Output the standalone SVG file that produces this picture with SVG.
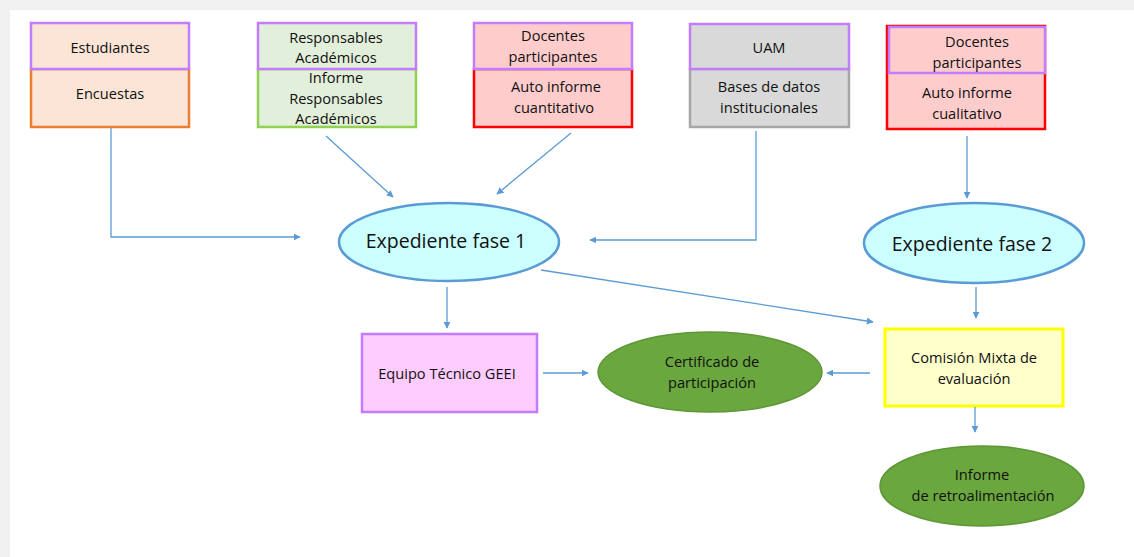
<svg xmlns="http://www.w3.org/2000/svg" width="1134" height="557" viewBox="0 0 1134 557">
<defs>
<style>
text{font-family:"Open Sans","Liberation Sans",sans-serif;fill:#111111;text-anchor:middle;dominant-baseline:central}
.s{font-size:14.6px}
.b{font-size:19.5px}
.c{stroke:#5b9bd5;stroke-width:1.3;fill:none;marker-end:url(#a)}
.pur{stroke:#c27cff;stroke-width:2.5}
</style>
<marker id="a" viewBox="0 0 10 10" refX="9" refY="5" markerWidth="7" markerHeight="7" orient="auto" markerUnits="userSpaceOnUse">
<path d="M0,0 L10,5 L0,10 z" fill="#5b9bd5"/>
</marker>
</defs>
<rect x="0" y="0" width="1134" height="557" fill="#f0f0f0"/>
<rect x="10" y="10" width="1124" height="547" fill="#ffffff"/>

<g id="n-estudiantes">
<rect x="31" y="69" width="158" height="58" fill="#fbe5d6" stroke="#ed7d31" stroke-width="2.5"/>
<rect x="31" y="23" width="158" height="46" fill="#fbe5d6" class="pur"/>
<text class="s" x="110" y="47">Estudiantes</text>
<text class="s" x="110" y="93">Encuestas</text>
</g>

<g id="n-responsables">
<rect x="258" y="69" width="158" height="58" fill="#e2efda" stroke="#92d050" stroke-width="2.5"/>
<rect x="258" y="23" width="158" height="46" fill="#e2efda" class="pur"/>
<text class="s" x="336" y="37">Responsables</text>
<text class="s" x="336" y="57">Académicos</text>
<text class="s" x="336" y="77">Informe</text>
<text class="s" x="336" y="98">Responsables</text>
<text class="s" x="336" y="118">Académicos</text>
</g>

<g id="n-docentes1">
<rect x="474" y="69" width="158" height="58" fill="#ffcccc" stroke="#ff0000" stroke-width="2.5"/>
<rect x="474" y="23" width="158" height="46" fill="#ffcccc" class="pur"/>
<text class="s" x="553" y="35">Docentes</text>
<text class="s" x="553" y="56">participantes</text>
<text class="s" x="556" y="86">Auto informe</text>
<text class="s" x="554" y="107">cuantitativo</text>
</g>

<g id="n-uam">
<rect x="690" y="69" width="159" height="58" fill="#d9d9d9" stroke="#a6a6a6" stroke-width="2.5"/>
<rect x="690" y="24" width="159" height="45" fill="#d9d9d9" class="pur"/>
<text class="s" x="769" y="47">UAM</text>
<text class="s" x="769" y="86">Bases de datos</text>
<text class="s" x="769" y="107">institucionales</text>
</g>

<g id="n-docentes2">
<rect x="887" y="26" width="158" height="103" fill="#ffcccc" stroke="#ff0000" stroke-width="2.5"/>
<rect x="889" y="27" width="156" height="46" fill="#ffcccc" class="pur"/>
<text class="s" x="977" y="41">Docentes</text>
<text class="s" x="977" y="62">participantes</text>
<text class="s" x="967" y="92">Auto informe</text>
<text class="s" x="967" y="113">cualitativo</text>
</g>

<g id="n-exp1">
<ellipse cx="449" cy="242" rx="110" ry="39" fill="#ccffff" stroke="#5b9bd5" stroke-width="2.5"/>
<text class="b" x="446" y="240">Expediente fase 1</text>
</g>

<g id="n-exp2">
<ellipse cx="974" cy="243" rx="110" ry="40" fill="#ccffff" stroke="#5b9bd5" stroke-width="2.5"/>
<text class="b" x="972" y="243">Expediente fase 2</text>
</g>

<g id="n-equipo">
<rect x="362" y="334" width="175" height="78" fill="#ffccff" class="pur"/>
<text class="s" x="447" y="373">Equipo Técnico GEEI</text>
</g>

<g id="n-certificado">
<ellipse cx="710" cy="372" rx="112" ry="40" fill="#6aa73e" stroke="#5e9636" stroke-width="1.5"/>
<text class="s" x="712" y="361">Certificado de</text>
<text class="s" x="712" y="382">participación</text>
</g>

<g id="n-comision">
<rect x="885" y="329" width="178" height="77" fill="#ffffcc" stroke="#ffff00" stroke-width="3"/>
<text class="s" x="974" y="357">Comisión Mixta de</text>
<text class="s" x="974" y="378">evaluación</text>
</g>

<g id="n-informe">
<ellipse cx="982" cy="486" rx="102" ry="40" fill="#6aa73e" stroke="#5e9636" stroke-width="1.5"/>
<text class="s" x="982" y="474">Informe</text>
<text class="s" x="983" y="495">de retroalimentación</text>
</g>

<g id="connectors">
<path class="c" d="M111,128 V237 H300"/>
<path class="c" d="M326,136 L393,197"/>
<path class="c" d="M571,133 L497,194"/>
<path class="c" d="M756,131 V240 H590"/>
<path class="c" d="M967,136 V198"/>
<path class="c" d="M541,270 L873,322"/>
<path class="c" d="M447,287 V328"/>
<path class="c" d="M976,287 V318"/>
<path class="c" d="M543,373 H588"/>
<path class="c" d="M870,373 H827"/>
<path class="c" d="M975,407 V432"/>
</g>
</svg>
